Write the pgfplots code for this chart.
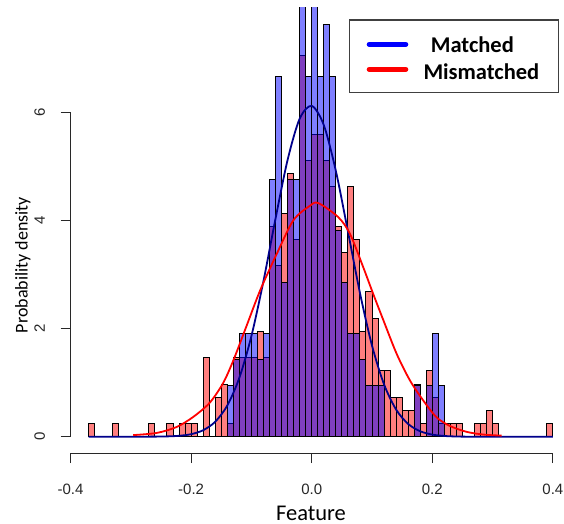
\documentclass[border=0pt]{standalone}
\usepackage{pgfplots}
\pgfplotsset{compat=1.18}
\usepackage{fontspec}
\setmainfont{Liberation Sans}
\newfontfamily\calibri{Carlito}
\definecolor{navycurve}{RGB}{0,0,139}
\definecolor{axisgray}{RGB}{40,40,40}

\begin{document}
\begin{tikzpicture}[x=1pt,y=1pt]
\path[use as bounding box] (0pt,0pt) rectangle (564pt,523pt);
\begin{axis}[
  at={(70.5pt,70pt)}, anchor=south west, scale only axis,
  width=482.4pt, height=445.7pt,
  xmin=-0.4, xmax=0.4, ymin=-0.301, ymax=7.94,
  axis line style={draw=none},
  clip mode=individual,
  xtick={-0.4,-0.2,0,0.2,0.4}, ytick={0,2,4,6},
  xtick pos=lower, ytick pos=left, tick align=outside,
  major tick length=10pt,
  tick style={axisgray, line width=1pt},
  /pgf/number format/assume math mode=true,
  tick label style={font=\fontsize{15}{15}\selectfont, text=black!85},
  xticklabel={\pgfmathprintnumber[fixed,fixed zerofill,precision=1]{\tick}},
  xticklabel shift=17pt,
  yticklabel shift=12pt,
  yticklabel style={rotate=90, anchor=south},
]
% red (mismatched) histogram
\addplot[ybar interval, fill=red, fill opacity=0.5, draw=black, line width=1pt] coordinates {
(-0.37,0.243) (-0.36,0) (-0.35,0) (-0.34,0) (-0.33,0.243) (-0.32,0) (-0.31,0) (-0.30,0)
(-0.29,0) (-0.28,0) (-0.27,0.243) (-0.26,0) (-0.25,0) (-0.24,0.243) (-0.23,0) (-0.22,0.243)
(-0.21,0.243) (-0.20,0.243) (-0.19,0) (-0.18,1.460) (-0.17,0) (-0.16,0.730) (-0.15,0.973)
(-0.14,0.243) (-0.13,1.460) (-0.12,1.460) (-0.11,1.460) (-0.10,1.460) (-0.09,1.946)
(-0.08,1.460) (-0.07,3.893) (-0.06,3.163) (-0.05,4.136) (-0.04,4.866) (-0.03,3.650)
(-0.02,7.056) (-0.01,5.109) (0.00,5.596) (0.01,5.596) (0.02,5.109) (0.03,4.623)
(0.04,3.893) (0.05,3.406) (0.06,4.623) (0.07,3.650) (0.08,1.946) (0.09,2.676) (0.10,2.190)
(0.11,1.217) (0.12,1.217) (0.13,0.730) (0.14,0.730) (0.15,0.487) (0.16,0.487) (0.17,0.973)
(0.18,0.243) (0.19,1.217) (0.20,0.730) (0.21,0.243) (0.22,0.243) (0.23,0.243) (0.24,0.243)
(0.25,0) (0.26,0) (0.27,0.243) (0.28,0.243) (0.29,0.487) (0.30,0.243) (0.31,0) (0.32,0)
(0.33,0) (0.34,0) (0.35,0) (0.36,0) (0.37,0) (0.38,0) (0.39,0.243) (0.40,0.243)
};
% blue (matched) histogram
\addplot[ybar interval, fill=blue, fill opacity=0.5, draw=black, line width=1pt] coordinates {
(-0.15,0) (-0.14,0.952) (-0.13,1.429) (-0.12,1.905) (-0.11,1.905) (-0.10,1.905) (-0.09,1.429)
(-0.08,1.905) (-0.07,4.762) (-0.06,6.667) (-0.05,2.857) (-0.04,4.762) (-0.03,4.762)
(-0.02,8.571) (-0.01,6.667) (0.00,8.571) (0.01,6.667) (0.02,7.619) (0.03,6.667)
(0.04,3.810) (0.05,2.857) (0.06,1.905) (0.07,1.905) (0.08,1.429) (0.09,0.952) (0.10,0.952)
(0.11,0.952) (0.12,0) (0.13,0) (0.14,0) (0.15,0) (0.16,0) (0.17,0.952) (0.18,0)
(0.19,0.952) (0.20,1.905) (0.21,0.952) (0.22,0)
};
% matched density curve
\addplot[navycurve, line width=1.8pt, smooth] coordinates {
(-0.37,0) (-0.30,0) (-0.26,0.002) (-0.24,0.006) (-0.22,0.017) (-0.20,0.047) (-0.18,0.120)
(-0.16,0.277) (-0.14,0.577) (-0.12,1.090) (-0.10,1.861) (-0.08,2.878) (-0.06,4.033)
(-0.04,5.117) (-0.02,5.879) (0.00,6.117) (0.02,5.764) (0.04,4.918) (0.06,3.800)
(0.08,2.659) (0.10,1.685) (0.12,0.967) (0.14,0.502) (0.16,0.236) (0.18,0.101) (0.20,0.039)
(0.22,0.014) (0.24,0.004) (0.26,0.001) (0.30,0) (0.40,0)
};
% mismatched density curve
\addplot[red, line width=1.8pt, smooth] coordinates {
(-0.296,0.03) (-0.257,0.07) (-0.224,0.18) (-0.196,0.37) (-0.169,0.63) (-0.147,0.99)
(-0.130,1.41) (-0.108,2.05) (-0.0857,2.70) (-0.058,3.38) (-0.0305,4.00) (-0.003,4.27)
(0.011,4.32) (0.044,4.06) (0.0635,3.75) (0.0856,3.13) (0.102,2.64) (0.119,2.15)
(0.141,1.53) (0.163,1.04) (0.185,0.67) (0.207,0.36) (0.229,0.20) (0.257,0.09)
(0.285,0.04) (0.315,0.02)
};
% R-style axis lines
\draw[axisgray, line width=1pt] (axis cs:-0.4,-0.301) -- (axis cs:0.4,-0.301);
\draw[axisgray, line width=1pt] (axis cs:-0.4,0) -- (axis cs:-0.4,6);
\end{axis}
% axis titles
\node[font=\calibri\fontsize{22.5}{24}\selectfont, anchor=base, inner sep=0pt] at (311pt,3pt) {Feature};
\node[font=\calibri\fontsize{18}{20}\selectfont, rotate=90, anchor=base, inner sep=0pt] at (27.6pt,258pt) {Probability density};
% legend
\draw[line width=1.5pt, black!75] (349.3pt,430.3pt) rectangle (558.3pt,503pt);
\draw[blue, line width=5pt, line cap=round] (369.2pt,478.7pt) -- (405.8pt,478.7pt);
\draw[red, line width=5pt, line cap=round] (369.2pt,453.7pt) -- (405.8pt,453.7pt);
\node[font=\calibri\bfseries\fontsize{22.5}{24}\selectfont, anchor=base west, inner sep=0pt] at (430.7pt,470.7pt) {Matched};
\node[font=\calibri\bfseries\fontsize{22.5}{24}\selectfont, anchor=base west, inner sep=0pt] at (423.3pt,443.7pt) {Mismatched};
\end{tikzpicture}
\end{document}
